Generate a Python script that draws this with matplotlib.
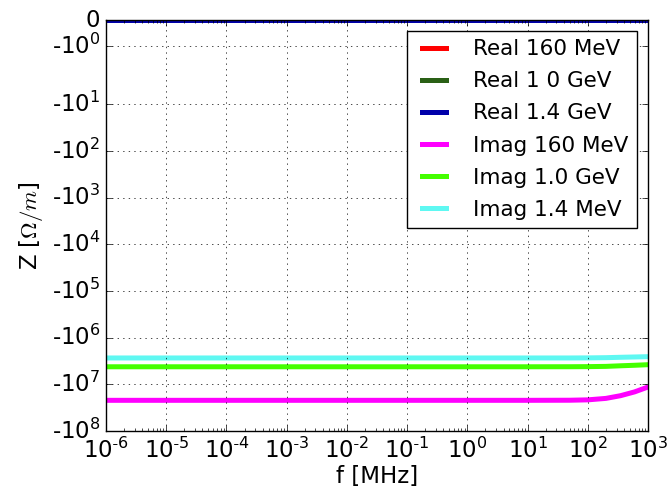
import numpy as np
import matplotlib
matplotlib.use('Agg')
import matplotlib.pyplot as plt

plt.style.use('classic')
plt.rcParams['axes.unicode_minus'] = False

# frequencies [MHz] where values were read
f = [1e-6, 1e-5, 1e-4, 1e-3, 1e-2, 1e-1, 1e0, 1e1, 5e1, 1e2, 2e2, 3.5e2, 6e2, 1e3]

# real parts (all close to zero)
re_160 = [-1e-2] * 14
re_1000 = [-1e-2] * 14
re_1400 = [-1e-2] * 14

# imaginary parts
im_160 = [-2.2e7, -2.2e7, -2.2e7, -2.2e7, -2.2e7, -2.2e7, -2.2e7, -2.2e7,
          -2.19e7, -2.15e7, -2.0e7, -1.75e7, -1.45e7, -1.14e7]
im_1000 = [-4.2e6, -4.2e6, -4.2e6, -4.2e6, -4.2e6, -4.2e6, -4.2e6, -4.2e6,
           -4.19e6, -4.17e6, -4.12e6, -4.0e6, -3.9e6, -3.79e6]
im_1400 = [-2.72e6, -2.72e6, -2.72e6, -2.72e6, -2.72e6, -2.72e6, -2.72e6, -2.72e6,
           -2.72e6, -2.71e6, -2.68e6, -2.63e6, -2.59e6, -2.55e6]

series = [
    (re_160, '#ff0000', 'Real 160 MeV'),
    (re_1000, '#2a6016', 'Real 1 0 GeV'),
    (re_1400, '#0000aa', 'Real 1.4 GeV'),
    (im_160, '#ff00ff', 'Imag 160 MeV'),
    (im_1000, '#44ff00', 'Imag 1.0 GeV'),
    (im_1400, '#5ff8f2', 'Imag 1.4 MeV'),
]

xticks = [1e-6, 1e-5, 1e-4, 1e-3, 1e-2, 1e-1, 1e0, 1e1, 1e2, 1e3]
yticks = [0, -1, -1e1, -1e2, -1e3, -1e4, -1e5, -1e6, -1e7, -1e8]

fs = 16.5

fig = plt.figure(figsize=(6.72, 4.94), dpi=100)
ax = fig.add_axes([106/672, 1-431/494, 542/672, 411/494])

for y, c, l in series:
    ax.plot(f, y, color=c, label=l, lw=3.6)

ax.set_xscale('log')
ax.set_yscale('symlog', linthresh=2, linscale=1)
ax.set_xlim(1e-6, 1e3)
ax.set_ylim(-1e8, 0)

def xlab(x):
    e = int(np.log10(x))
    if e < 0:
        return '$\\mathdefault{10^{\\text{-}%d}}$' % (-e)
    return '$\\mathdefault{10^{%d}}$' % e

ax.set_xticks(xticks)
ax.set_xticklabels([xlab(x) for x in xticks])
ax.set_yticks(yticks)
ax.set_yticklabels(['0'] + ['-$\\mathdefault{10^{%d}}$' % int(np.log10(-y)) for y in yticks[1:]])
ax.yaxis.set_minor_locator(matplotlib.ticker.NullLocator())
ax.tick_params(labelsize=fs)
ax.tick_params(axis='x', pad=5)

ax.grid(True)
ax.set_xlabel('f [MHz]', fontsize=fs, labelpad=1)
ax.set_ylabel('Z [$\\Omega/m$]', fontsize=fs)

ax.legend(loc='upper right', fontsize=15.5, handlelength=1.75,
          labelspacing=0.56, handletextpad=0.95, borderpad=0.4)

plt.savefig('out.png', dpi=100)
